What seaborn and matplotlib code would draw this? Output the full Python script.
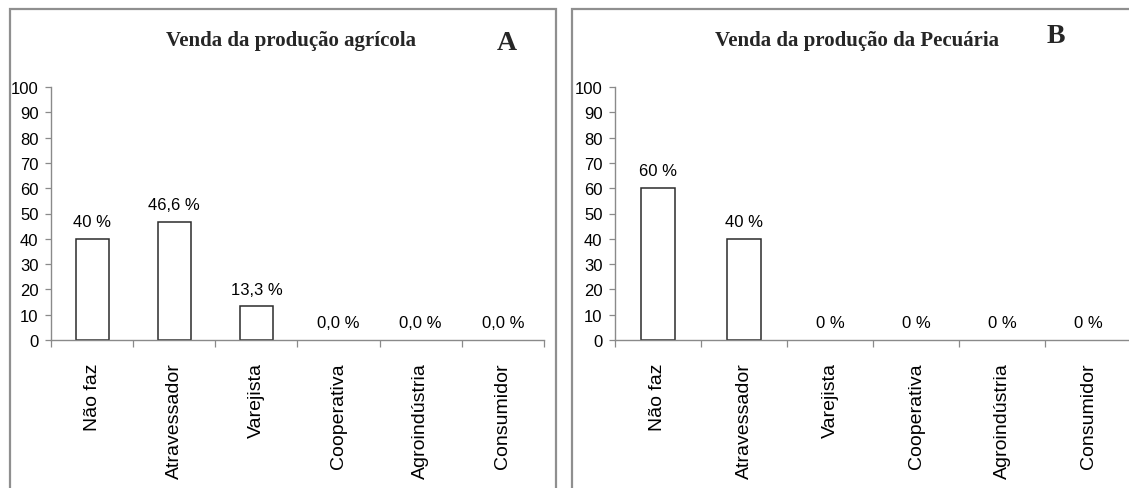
import matplotlib
matplotlib.use("Agg")
import matplotlib.pyplot as plt
from matplotlib.patches import Rectangle
from matplotlib.ticker import FixedLocator
import seaborn as sns
import pandas as pd

categories = ["Não faz", "Atravessador", "Varejista", "Cooperativa", "Agroindústria", "Consumidor"]

agricola_values = [40, 46.6, 13.3, 0.0, 0.0, 0.0]
agricola_labels = ["40 %", "46,6 %", "13,3 %", "0,0 %", "0,0 %", "0,0 %"]

pecuaria_values = [60, 40, 0, 0, 0, 0]
pecuaria_labels = ["60 %", "40 %", "0 %", "0 %", "0 %", "0 %"]

y_ticks = [0, 10, 20, 30, 40, 50, 60, 70, 80, 90, 100]

titles = ["Venda da produção agrícola", "Venda da produção da Pecuária"]
panel_letters = ["A", "B"]

sns.set_theme(style="white")
sans = ["Liberation Sans", "DejaVu Sans"]
serif = ["Liberation Serif", "DejaVu Serif"]
plt.rcParams["font.family"] = sans

W, H = 1129, 489
fig = plt.figure(figsize=(W / 100, H / 100), dpi=100)
fig.patch.set_facecolor("white")

# panel frames (open at bottom / right edge of the figure)
frame_color = "#8f8f8f"
fig.patches.append(Rectangle((10 / W, -0.1), (556 - 10) / W, 1.1 - 10 / H,
                             transform=fig.transFigure, fill=False,
                             edgecolor=frame_color, linewidth=1.6))
fig.patches.append(Rectangle((572 / W, -0.1), 0.6, 1.1 - 10 / H,
                             transform=fig.transFigure, fill=False,
                             edgecolor=frame_color, linewidth=1.6))

# axes rectangles in pixel units: (left, right, top, bottom)
boxes = [(51, 544, 88, 341), (615, 1131, 88, 341)]

panels = [
    (agricola_values, agricola_labels),
    (pecuaria_values, pecuaria_labels),
]

title_pos = [(291, 46), (857, 46)]
letter_pos = [(507, 50), (1056, 43)]

for i, ((vals, labs), (l, r, t, b)) in enumerate(zip(panels, boxes)):
    ax = fig.add_axes([l / W, 1 - b / H, (r - l) / W, (b - t) / H])
    df = pd.DataFrame({"cat": categories, "val": vals})
    sns.barplot(data=df, x="cat", y="val", ax=ax, color="white",
                edgecolor="#2b2b2b", linewidth=1.1, width=0.4,
                saturation=1, errorbar=None)
    # empty categories: no outline drawn on top of the axis line
    for patch, v in zip(ax.containers[0], vals):
        if v == 0:
            patch.set_linewidth(0)
    ax.set_facecolor("none")
    ax.set_xlim(-0.5, len(categories) - 0.5)
    ax.set_ylim(0, 100)
    ax.set_xlabel("")
    ax.set_ylabel("")

    for side in ("top", "right"):
        ax.spines[side].set_visible(False)
    for side in ("left", "bottom"):
        ax.spines[side].set_color("#8a8a8a")
        ax.spines[side].set_linewidth(1.0)

    ax.set_yticks(y_ticks)
    ax.set_yticklabels([str(v) for v in y_ticks], fontsize=12)
    ax.tick_params(axis="y", which="major", left=True, length=4, width=0.9,
                   color="#8a8a8a", pad=5, labelcolor="black")

    ax.set_xticks(range(len(categories)))
    ax.set_xticklabels(categories, rotation=90, fontsize=14,
                       va="top", ha="center")
    ax.tick_params(axis="x", which="major", bottom=True, length=0, pad=16,
                   labelcolor="black")
    ax.xaxis.set_minor_locator(FixedLocator([k - 0.5 for k in range(len(categories) + 1)]))
    ax.tick_params(axis="x", which="minor", bottom=True, length=5, width=0.9,
                   color="#8a8a8a", direction="out")

    ax.bar_label(ax.containers[0], labels=labs, padding=7, fontsize=12,
                 color="black")

    tx, ty = title_pos[i]
    fig.text(tx / W, 1 - ty / H, titles[i], ha="center", va="baseline",
             family=serif, fontweight="bold", fontsize=15)
    lx, ly = letter_pos[i]
    fig.text(lx / W, 1 - ly / H, panel_letters[i], ha="center", va="baseline",
             family=serif, fontweight="bold", fontsize=20)

fig.savefig("out.png", dpi=100, facecolor="white")
